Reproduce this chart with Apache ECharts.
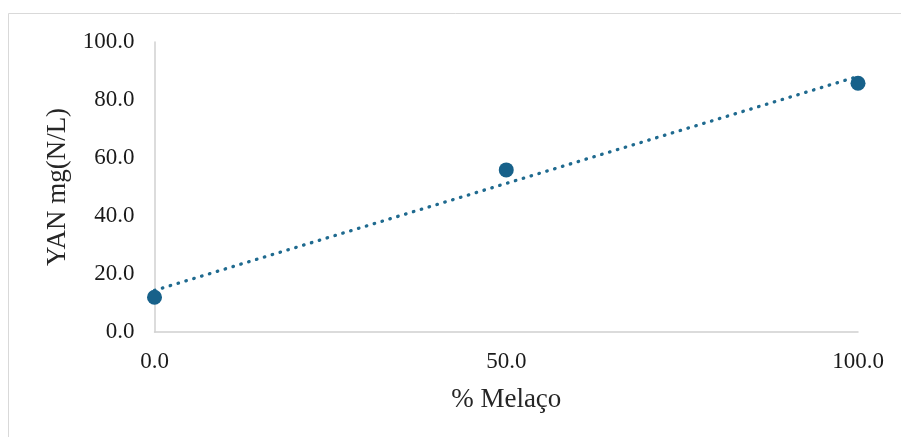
<!DOCTYPE html>
<html><head><meta charset="utf-8">
<script src="https://cdn.jsdelivr.net/npm/echarts@6/dist/echarts.min.js"></script>
<style>html,body{margin:0;padding:0;background:#fff}#c{width:901px;height:437px}</style>
</head><body><div id="c"></div>
<script>
const xValues = [0, 50, 100];
const yValues = [12.0, 55.9, 85.8];
const xTicks = [0, 50, 100];
const yTicks = [0, 20, 40, 60, 80, 100];
const xTitle = '% Melaço';
const yTitle = 'YAN mg(N/L)';

// linear trendline (least squares) from the data
const n = xValues.length;
const mx = xValues.reduce((a,b)=>a+b,0)/n;
const my = yValues.reduce((a,b)=>a+b,0)/n;
let sxy=0, sxx=0;
for (let i=0;i<n;i++){ sxy+=(xValues[i]-mx)*(yValues[i]-my); sxx+=(xValues[i]-mx)**2; }
const slope = sxy/sxx, icpt = my - slope*mx;
const xmin = Math.min(...xValues), xmax = Math.max(...xValues);
const trend = [[xmin, icpt+slope*xmin],[xmax, icpt+slope*xmax]];

const font = '"Liberation Serif", "Times New Roman", serif';
const chart = echarts.init(document.getElementById('c'));
chart.setOption({
  animation:false,
  backgroundColor:'#fff',
  graphic:[{type:'rect', shape:{x:8.5,y:13.5,width:1000,height:1000}, style:{fill:'none', stroke:'#d9d9d9', lineWidth:1}, silent:true}],
  grid:{left:154.5, right:43, top:42, bottom:105, containLabel:false},
  xAxis:{type:'value', min:xTicks[0], max:xTicks[xTicks.length-1], interval:xTicks[1]-xTicks[0],
    name:xTitle, nameLocation:'middle', nameGap:54,
    nameTextStyle:{fontFamily:font, fontSize:27, color:'#262626'},
    axisLine:{show:true, lineStyle:{color:'#d0d0d0', width:1.5}},
    axisTick:{show:false}, splitLine:{show:false},
    axisLabel:{fontFamily:font, fontSize:23, color:'#1a1a1a', margin:18, formatter:v=>v.toFixed(1)}},
  yAxis:{type:'value', min:yTicks[0], max:yTicks[yTicks.length-1], interval:yTicks[1]-yTicks[0],
    name:yTitle, nameLocation:'middle', nameGap:83,
    nameTextStyle:{fontFamily:font, fontSize:27, color:'#262626'},
    axisLine:{show:true, lineStyle:{color:'#d0d0d0', width:1.5}},
    axisTick:{show:false}, splitLine:{show:false},
    axisLabel:{fontFamily:font, fontSize:23, color:'#1a1a1a', margin:20, formatter:v=>v.toFixed(1)}},
  series:[
    {type:'line', data:trend, symbol:'none', z:2,
     lineStyle:{color:'#1f6a8f', width:3.3, type:[0.5,7.7], cap:'round'}},
    {type:'scatter', data:xValues.map((x,i)=>[x,yValues[i]]), symbolSize:15, z:3,
     itemStyle:{color:'#17618a', opacity:1}}
  ]
});
</script></body></html>
